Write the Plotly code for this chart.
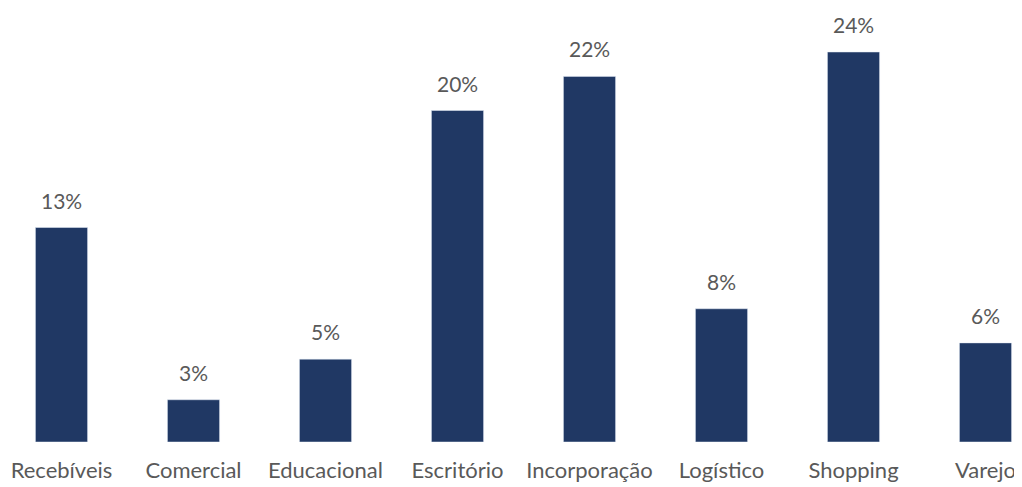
import plotly.graph_objects as go

categories = ["Recebíveis", "Comercial", "Educacional", "Escritório", "Incorporação", "Logístico", "Shopping", "Varejo"]
values = [13.2, 2.6, 5.1, 20.4, 22.5, 8.2, 24.0, 6.1]
labels = ["13%", "3%", "5%", "20%", "22%", "8%", "24%", "6%"]

BAR = "#203864"
TXT = "#595959"
FONT = "Lato"

OFF = 8  # page body margin
W, H = 1014, 479
base = 442 - OFF
pxu = 132.0
c0 = 61.5 - OFF

fig = go.Figure(go.Bar(x=categories, y=values, marker_color=BAR, width=0.395,
                       hoverinfo="skip"))

for c, v, t in zip(categories, values, labels):
    fig.add_annotation(x=c, y=v, text=t, showarrow=False, yanchor="bottom", yshift=13,
                       font=dict(family=FONT, size=21, color=TXT))

fig.update_layout(
    width=W, height=H,
    margin=dict(l=0, r=0, t=0, b=H - base),
    plot_bgcolor="white", paper_bgcolor="white",
    showlegend=False,
    xaxis=dict(range=[-c0 / pxu, (W - c0) / pxu], showline=False, automargin=False,
               ticks="outside", ticklen=9, tickcolor="rgba(0,0,0,0)",
               tickfont=dict(family=FONT, size=22, color=TXT), showgrid=False),
    yaxis=dict(range=[0, base / 16.25], visible=False, showgrid=False, zeroline=False,
               automargin=False),
)
fig.write_html("out.html")
